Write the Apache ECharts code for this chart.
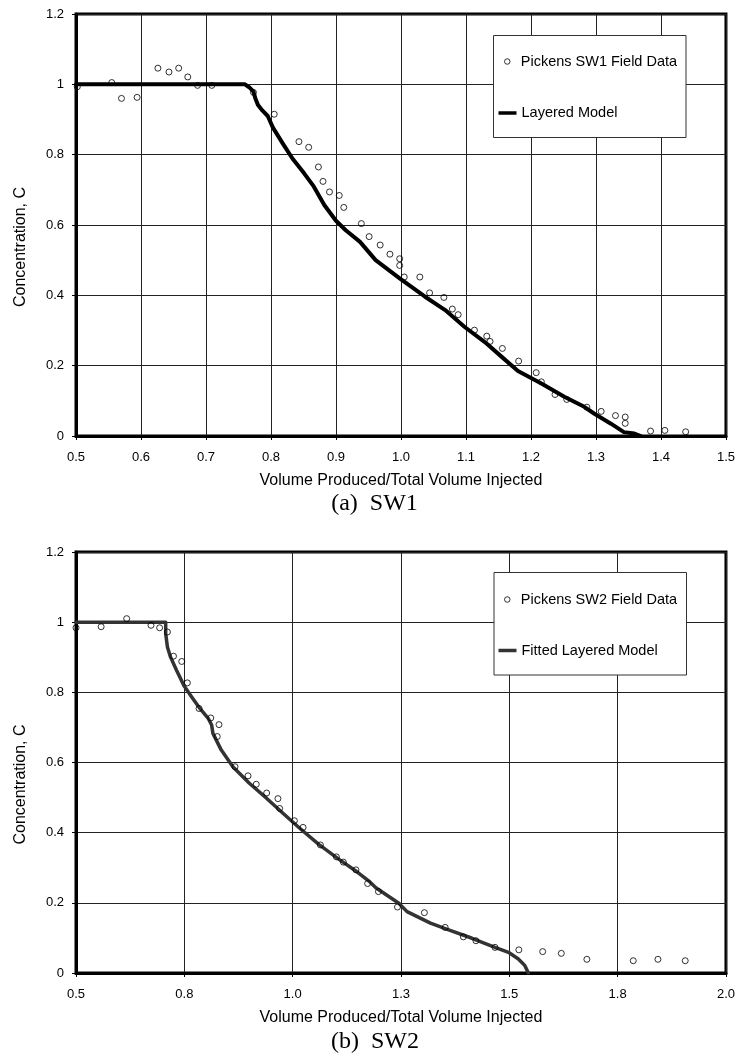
<!DOCTYPE html>
<html>
<head>
<meta charset="utf-8">
<script src="https://cdn.jsdelivr.net/npm/echarts@6/dist/echarts.min.js"></script>
<style>
html,body{margin:0;padding:0;background:#fff;}
#chart{width:738px;height:1055px;}
</style>
</head>
<body>
<div id="chart"></div>
<script>
// ---- Panel (a) SW1 ----
const sw1FieldX = [0.502, 0.555, 0.570, 0.594, 0.626, 0.643, 0.658, 0.672, 0.687, 0.709, 0.773, 0.805, 0.843, 0.858, 0.873, 0.880, 0.890, 0.905, 0.912, 0.939, 0.951, 0.968, 0.983, 0.998, 0.998, 1.005, 1.029, 1.044, 1.066, 1.079, 1.088, 1.113, 1.132, 1.137, 1.156, 1.181, 1.208, 1.216, 1.237, 1.255, 1.286, 1.308, 1.330, 1.345, 1.345, 1.384, 1.406, 1.438];
const sw1FieldC = [0.993, 1.005, 0.960, 0.963, 1.046, 1.035, 1.046, 1.021, 0.997, 0.997, 0.977, 0.915, 0.837, 0.821, 0.765, 0.724, 0.694, 0.684, 0.650, 0.604, 0.567, 0.543, 0.517, 0.504, 0.485, 0.452, 0.452, 0.407, 0.394, 0.361, 0.345, 0.301, 0.284, 0.269, 0.249, 0.213, 0.180, 0.154, 0.118, 0.104, 0.082, 0.070, 0.058, 0.054, 0.036, 0.014, 0.016, 0.012];
const sw1ModelX = [0.5, 0.760, 0.767, 0.773, 0.776, 0.780, 0.787, 0.795, 0.803, 0.818, 0.833, 0.851, 0.866, 0.882, 0.900, 0.915, 0.937, 0.961, 0.998, 1.037, 1.068, 1.098, 1.129, 1.155, 1.180, 1.216, 1.252, 1.282, 1.297, 1.323, 1.343, 1.359, 1.369];
const sw1ModelC = [1.0, 1.0, 0.991, 0.979, 0.960, 0.941, 0.925, 0.910, 0.877, 0.832, 0.789, 0.747, 0.709, 0.657, 0.612, 0.585, 0.552, 0.500, 0.448, 0.396, 0.358, 0.310, 0.267, 0.225, 0.185, 0.149, 0.111, 0.083, 0.064, 0.035, 0.011, 0.007, 0.0];

// ---- Panel (b) SW2 ----
const sw2FieldX = [0.500, 0.558, 0.617, 0.673, 0.693, 0.711, 0.725, 0.744, 0.757, 0.784, 0.811, 0.830, 0.826, 0.867, 0.897, 0.916, 0.940, 0.966, 0.970, 1.004, 1.024, 1.064, 1.101, 1.117, 1.146, 1.173, 1.198, 1.242, 1.304, 1.352, 1.394, 1.423, 1.467, 1.522, 1.577, 1.620, 1.679, 1.786, 1.843, 1.906];
const sw2FieldC = [0.984, 0.987, 1.010, 0.991, 0.984, 0.972, 0.903, 0.888, 0.827, 0.754, 0.727, 0.708, 0.674, 0.588, 0.562, 0.538, 0.513, 0.497, 0.469, 0.434, 0.415, 0.365, 0.331, 0.316, 0.294, 0.255, 0.232, 0.188, 0.172, 0.130, 0.103, 0.092, 0.073, 0.066, 0.061, 0.056, 0.039, 0.035, 0.039, 0.035];
const sw2ModelX = [0.5, 0.707, 0.707, 0.711, 0.718, 0.732, 0.750, 0.767, 0.786, 0.805, 0.813, 0.816, 0.835, 0.862, 0.900, 0.939, 0.977, 1.015, 1.061, 1.107, 1.150, 1.176, 1.192, 1.245, 1.264, 1.318, 1.360, 1.414, 1.467, 1.498, 1.521, 1.536, 1.544];
const sw2ModelC = [1.0, 1.0, 0.967, 0.929, 0.901, 0.863, 0.817, 0.787, 0.754, 0.726, 0.707, 0.683, 0.636, 0.588, 0.541, 0.499, 0.456, 0.414, 0.366, 0.324, 0.287, 0.262, 0.243, 0.199, 0.175, 0.142, 0.123, 0.099, 0.073, 0.059, 0.040, 0.021, 0.0];

const seriesNames = ['Pickens SW1 Field Data', 'Layered Model', 'Pickens SW2 Field Data', 'Fitted Layered Model'];
const xTitle = 'Volume Produced/Total Volume Injected';
const yTitle = 'Concentration, C';
const captions = ['(a)  SW1', '(b)  SW2'];

const zip = (xs, ys) => xs.map((x, i) => [x, ys[i]]);
const SANS = '"Liberation Sans", Arial, Helvetica, sans-serif';
const SERIF = '"Liberation Serif", "Times New Roman", serif';

function xAxisFor(idx, max, interval) {
  return {
    type: 'value', gridIndex: idx, min: 0.5, max: max, interval: interval,
    name: xTitle, nameLocation: 'middle', nameGap: 37,
    nameTextStyle: { fontSize: 16, color: '#000', fontFamily: SANS },
    axisLine: { show: true, onZero: false, lineStyle: { color: '#000', width: 3 } },
    axisTick: { show: true, inside: false, length: 4, lineStyle: { color: '#000', width: 1 } },
    axisLabel: { margin: 15, fontSize: 13, color: '#000', fontFamily: SANS,
      formatter: v => v.toFixed(1) },
    splitLine: { show: true, lineStyle: { color: '#222', width: 1 } }
  };
}
function yAxisFor(idx) {
  return {
    type: 'value', gridIndex: idx, min: 0, max: 1.2, interval: 0.2,
    name: yTitle, nameLocation: 'middle', nameGap: 47, nameRotate: 90,
    nameTextStyle: { fontSize: 16, color: '#000', fontFamily: SANS, padding: [0, 44, 0, 0] },
    axisLine: { show: true, onZero: false, lineStyle: { color: '#000', width: 3 } },
    axisTick: { show: true, inside: false, length: 4, lineStyle: { color: '#000', width: 1 } },
    axisLabel: { margin: 12, fontSize: 13, color: '#000', fontFamily: SANS,
      formatter: v => String(Number(v.toFixed(1))) },
    splitLine: { show: true, lineStyle: { color: '#222', width: 1 } }
  };
}
function legendScatter(name, top) {
  return {
    data: [{ name: name, icon: 'circle',
      itemStyle: { color: 'rgba(255,255,255,0)', borderColor: '#000', borderWidth: 1 } }],
    left: 504, top: top, orient: 'horizontal', padding: 0,
    itemWidth: 17, itemHeight: 5.5, itemGap: 0, selectedMode: false,
    textStyle: { fontSize: 14.5, color: '#000', fontFamily: SANS }
  };
}
function legendLine(name, top, color) {
  return {
    data: [{ name: name, icon: 'rect',
      itemStyle: { color: color, borderWidth: 0 }, lineStyle: { width: 0 } }],
    left: 498.5, top: top, orient: 'horizontal', padding: 0,
    itemWidth: 18, itemHeight: 3.5, itemGap: 0, selectedMode: false,
    textStyle: { fontSize: 14.5, color: '#000', fontFamily: SANS }
  };
}
function scatterSeries(name, idx, data) {
  return {
    name: name, type: 'scatter', xAxisIndex: idx, yAxisIndex: idx, data: data,
    symbol: 'circle', symbolSize: 6, z: 3,
    itemStyle: { color: 'rgba(255,255,255,0)', borderColor: '#000', borderWidth: 1 }
  };
}
function lineSeries(name, idx, data, color, width) {
  return {
    name: name, type: 'line', xAxisIndex: idx, yAxisIndex: idx, data: data,
    symbol: 'none', showSymbol: false, smooth: false, z: 2,
    lineStyle: { color: color, width: width, join: 'round', cap: 'round' },
    itemStyle: { color: color }
  };
}

const chart = echarts.init(document.getElementById('chart'), null, { renderer: 'canvas' });
chart.setOption({
  animation: false,
  backgroundColor: '#fff',
  grid: [
    { left: 76, top: 14, width: 652, height: 422, show: true, borderColor: '#000', borderWidth: 3, backgroundColor: 'transparent' },
    { left: 76, top: 552, width: 652, height: 421, show: true, borderColor: '#000', borderWidth: 3, backgroundColor: 'transparent' }
  ],
  xAxis: [xAxisFor(0, 1.5, 0.1), xAxisFor(1, 2.0, 0.25)],
  yAxis: [yAxisFor(0), yAxisFor(1)],
  legend: [
    legendScatter(seriesNames[0], 54),
    legendLine(seriesNames[1], 105.5, '#000'),
    legendScatter(seriesNames[2], 592),
    legendLine(seriesNames[3], 643, '#333')
  ],
  graphic: [
    { type: 'rect', z: 3, shape: { x: 493.5, y: 35.5, width: 192.5, height: 102 }, style: { fill: '#fff', stroke: '#333', lineWidth: 1 } },
    { type: 'rect', z: 3, shape: { x: 494, y: 572.5, width: 192.5, height: 102.5 }, style: { fill: '#fff', stroke: '#333', lineWidth: 1 } },
    { type: 'text', z: 5, x: 374.5, y: 504, style: { text: captions[0], font: '24px ' + SERIF, fill: '#000', textAlign: 'center', textVerticalAlign: 'middle' } },
    { type: 'text', z: 5, x: 375, y: 1041.5, style: { text: captions[1], font: '24px ' + SERIF, fill: '#000', textAlign: 'center', textVerticalAlign: 'middle' } }
  ],
  series: [
    lineSeries(seriesNames[1], 0, zip(sw1ModelX, sw1ModelC), '#000', 4),
    scatterSeries(seriesNames[0], 0, zip(sw1FieldX, sw1FieldC)),
    lineSeries(seriesNames[3], 1, zip(sw2ModelX, sw2ModelC), '#333', 3.5),
    scatterSeries(seriesNames[2], 1, zip(sw2FieldX, sw2FieldC))
  ]
});
</script>
</body>
</html>
